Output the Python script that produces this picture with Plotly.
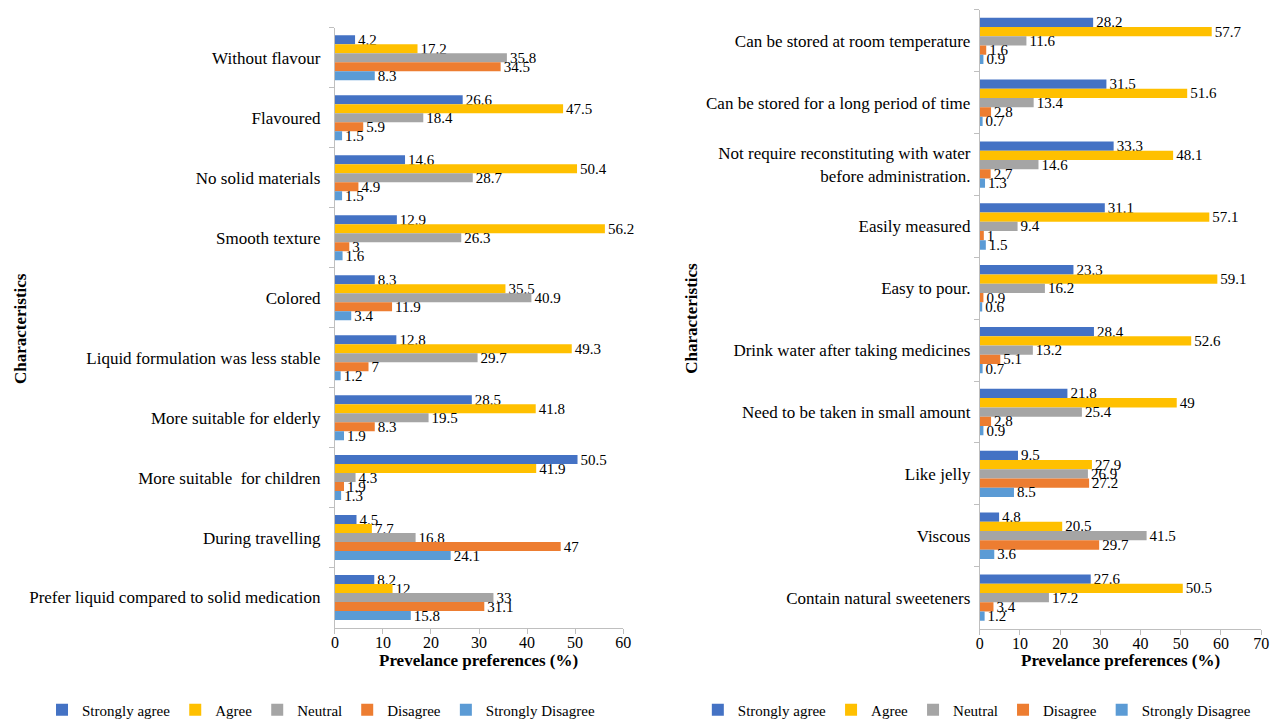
import plotly.graph_objects as go

# Response levels and colours
levels = ["Strongly agree", "Agree", "Neutral", "Disagree", "Strongly Disagree"]
colors = ["#4472C4", "#FFC000", "#A5A5A5", "#ED7D31", "#5B9BD5"]

# Left panel: characteristics (top to bottom)
left_cats = [
    "Without flavour",
    "Flavoured",
    "No solid materials",
    "Smooth texture",
    "Colored",
    "Liquid formulation was less stable",
    "More suitable for elderly",
    "More suitable  for children",
    "During travelling",
    "Prefer liquid compared to solid medication",
]
left_strongly_agree = [4.2, 26.6, 14.6, 12.9, 8.3, 12.8, 28.5, 50.5, 4.5, 8.2]
left_agree = [17.2, 47.5, 50.4, 56.2, 35.5, 49.3, 41.8, 41.9, 7.7, 12]
left_neutral = [35.8, 18.4, 28.7, 26.3, 40.9, 29.7, 19.5, 4.3, 16.8, 33]
left_disagree = [34.5, 5.9, 4.9, 3, 11.9, 7, 8.3, 1.9, 47, 31.1]
left_strongly_disagree = [8.3, 1.5, 1.5, 1.6, 3.4, 1.2, 1.9, 1.3, 24.1, 15.8]

# Right panel: characteristics (top to bottom)
right_cats = [
    "Can be stored at room temperature",
    "Can be stored for a long period of time",
    "Not require reconstituting with water<br>before administration.",
    "Easily measured",
    "Easy to pour.",
    "Drink water after taking medicines",
    "Need to be taken in small amount",
    "Like jelly",
    "Viscous",
    "Contain natural sweeteners",
]
right_strongly_agree = [28.2, 31.5, 33.3, 31.1, 23.3, 28.4, 21.8, 9.5, 4.8, 27.6]
right_agree = [57.7, 51.6, 48.1, 57.1, 59.1, 52.6, 49, 27.9, 20.5, 50.5]
right_neutral = [11.6, 13.4, 14.6, 9.4, 16.2, 13.2, 25.4, 26.9, 41.5, 17.2]
right_disagree = [1.6, 2.8, 2.7, 1, 0.9, 5.1, 2.8, 27.2, 29.7, 3.4]
right_strongly_disagree = [0.9, 0.7, 1.3, 1.5, 0.6, 0.7, 0.9, 8.5, 3.6, 1.2]

left_series = [left_strongly_agree, left_agree, left_neutral, left_disagree, left_strongly_disagree]
right_series = [right_strongly_agree, right_agree, right_neutral, right_disagree, right_strongly_disagree]

FONT = "Liberation Serif, Times New Roman, serif"
AXIS_GRAY = "#BFBFBF"

fig = go.Figure()


def add_panel(cats, series, xref, yref, legend):
    for name, vals, col in zip(levels, series, colors):
        fig.add_trace(go.Bar(
            y=cats, x=vals, name=name, orientation="h",
            marker=dict(color=col, line=dict(width=0)),
            text=[f"{v:g}" for v in vals], textposition="outside",
            textfont=dict(family=FONT, size=15, color="#000000"),
            constraintext="none", cliponaxis=False,
            xaxis=xref, yaxis=yref, legend=legend,
            hoverinfo="x+y+name",
        ))


add_panel(left_cats, left_series, "x", "y", "legend")
add_panel(right_cats, right_series, "x2", "y2", "legend2")

xaxis_common = dict(
    showgrid=False, zeroline=False, showline=True, linecolor=AXIS_GRAY, linewidth=1,
    ticks="outside", ticklen=5, tickcolor=AXIS_GRAY, dtick=10, ticklabelstandoff=-5,
    tickfont=dict(family=FONT, size=16, color="#000000"),
)
yaxis_common = dict(
    showgrid=False, zeroline=False, showline=True, linecolor=AXIS_GRAY, linewidth=1,
    ticks="outside", ticklen=5, tickcolor=AXIS_GRAY, tickson="boundaries",
    tickfont=dict(family=FONT, size=17, color="#000000"), autorange="reversed",
    categoryorder="array",
)

W, H = 1285, 727


def px_x(p):
    return p / W


def px_y(p):
    return 1 - p / H


def centered_note(text, x, y, angle=0):
    return dict(text=text, x=px_x(x), y=px_y(y), xref="paper", yref="paper",
                xanchor="center", yanchor="middle", textangle=angle, showarrow=False,
                font=dict(family=FONT, size=17, color="#000000"))


legend_common = dict(orientation="h", xanchor="center", yanchor="middle", y=px_y(714),
                     font=dict(family=FONT, size=15, color="#000000"),
                     bgcolor="rgba(0,0,0,0)", traceorder="normal", itemwidth=30)

fig.update_layout(
    width=W, height=H,
    margin=dict(l=0, r=0, t=0, b=0),
    paper_bgcolor="white", plot_bgcolor="white",
    barmode="group", bargap=0.25, bargroupgap=0,
    font=dict(family=FONT, color="#000000"),
    xaxis=dict(domain=[px_x(334), px_x(625)], range=[0, 60], anchor="y", **xaxis_common),
    yaxis=dict(domain=[px_y(631), px_y(28)], anchor="x", categoryarray=left_cats,
               ticklabelstandoff=10, **yaxis_common),
    xaxis2=dict(domain=[px_x(985), px_x(1269)], range=[0, 70], anchor="y2", **xaxis_common),
    yaxis2=dict(domain=[px_y(632), px_y(10)], anchor="x2", categoryarray=right_cats,
                ticklabelstandoff=5, **yaxis_common),
    legend=dict(x=px_x(320), **legend_common),
    legend2=dict(x=px_x(982), **legend_common),
    annotations=[
        centered_note("<b>Characteristics</b>", 16, 330, -90),
        centered_note("<b>Characteristics</b>", 694, 320, -90),
        centered_note("<b>Prevelance preferences (%)</b>", 479, 664),
        centered_note("<b>Prevelance preferences (%)</b>", 1127, 664),
    ],
)

fig.write_html("out.html")
